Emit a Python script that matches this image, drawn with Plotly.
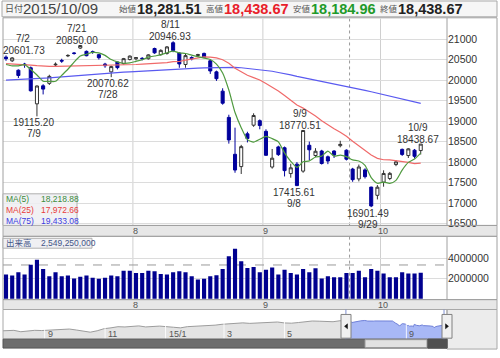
import plotly.graph_objects as go

# ---------------- data ----------------
dates = ["2015-07-02","2015-07-03","2015-07-06","2015-07-07","2015-07-08","2015-07-09","2015-07-10",
         "2015-07-13","2015-07-14","2015-07-15","2015-07-16","2015-07-17","2015-07-21","2015-07-22",
         "2015-07-23","2015-07-24","2015-07-27","2015-07-28","2015-07-29","2015-07-30","2015-07-31",
         "2015-08-03","2015-08-04","2015-08-05","2015-08-06","2015-08-07","2015-08-10","2015-08-11",
         "2015-08-12","2015-08-13","2015-08-14","2015-08-17","2015-08-18","2015-08-19","2015-08-20",
         "2015-08-21","2015-08-24","2015-08-25","2015-08-26","2015-08-27","2015-08-28","2015-08-31",
         "2015-09-01","2015-09-02","2015-09-03","2015-09-04","2015-09-07","2015-09-08","2015-09-09",
         "2015-09-10","2015-09-11","2015-09-14","2015-09-15","2015-09-16","2015-09-17","2015-09-18",
         "2015-09-24","2015-09-25","2015-09-28","2015-09-29","2015-09-30",
         "2015-10-01","2015-10-02","2015-10-05","2015-10-06","2015-10-07","2015-10-08","2015-10-09"]
opens = [20560,20470,20240,20390,20300,19420,19860,19920,20370,20480,20590,20660,20780,20700,
         20690,20620,20390,20200,20440,20400,20500,20520,20530,20520,20770,20620,20650,20910,
         20660,20380,20550,20600,20650,20470,20200,19730,19090,18190,17890,18690,18900,19010,
         18750,17880,18370,18350,17720,17950,17780,18410,18160,18270,18130,18270,18400,18290,
         17830,17590,17810,17390,17190,17510,17600,17940,18310,18160,18290,18281.51]
highs = [20601.73,20560,20260,20420,20330,19870,19900,20130,20430,20520,20630,20680,20850.00,20720,
         20720,20640,20420,20350,20450,20540,20600,20560,20560,20630,20790,20750,20830,20946.93,
         20680,20640,20580,20640,20670,20500,20230,19800,19155,18840,18420,18740,19190,19040,
         18800,18320,18400,18380,17960,18000,18770.51,18500,18340,18300,18160,18290,18520,18310,
         17860,17940,17850,17400,17440,17800,17760,18050,18330,18340,18320,18438.67]
lows = [20470,20440,20050,20300,19720,19115.20,19650,19880,20330,20420,20560,20620,20760,20580,
        20640,20500,20300,20070.62,20260,20380,20480,20480,20480,20500,20640,20600,20620,20680,
        20300,20300,20480,20560,20540,20150,19980,19400,18450,17740,17710,18480,18860,18800,
        18160,17840,18150,17650,17620,17415.61,17740,18050,18120,17940,17950,18100,18360,18040,
        17520,17530,17600,16901.49,17090,17400,17560,17900,18150,18100,18090,18184.96]
closes = [20522.83,20539.79,20112.12,20376.59,19737.64,19855.50,19779.83,20089.77,20385.33,20463.33,
          20600.12,20650.92,20841.97,20593.67,20683.95,20544.53,20350.10,20328.89,20302.91,20522.83,
          20585.24,20548.11,20520.36,20614.06,20664.44,20724.56,20808.69,20720.75,20392.77,20595.55,
          20519.45,20620.26,20554.47,20222.63,20033.52,19435.83,18540.68,17806.70,18376.83,18574.44,
          19136.32,18890.48,18165.69,18095.40,18182.39,17792.16,17860.47,17427.08,18770.51,18299.62,
          18264.22,17965.70,18026.48,18171.60,18432.27,18070.21,17571.83,17880.51,17645.11,16930.84,
          17388.15,17722.42,17725.13,18005.49,18186.10,18322.98,18141.17,18438.67]
volumes = [2370000,2270000,2600000,2370000,3350000,3840000,2920000,2200000,2600000,2200000,
           2270000,1980000,2150000,2270000,2050000,1950000,2050000,2270000,2200000,2760000,
           2760000,2530000,2530000,2760000,2700000,2430000,2370000,2600000,2700000,2600000,
           2200000,1880000,1950000,2200000,2300000,2920000,4170000,4920000,3680000,3020000,
           3120000,2600000,2860000,3060000,2370000,2860000,2530000,2370000,2920000,2600000,
           2990000,1980000,2200000,2100000,2100000,2530000,2530000,2760000,2100000,2920000,
           2760000,2470000,2100000,2100000,2600000,2470000,2470000,2549250]
prior_closes = [20706.15, 20109.95, 20235.73, 20329.32]
ma25_early = [20400,20395,20385,20378,20365,20352,20340,20335,20335,20338,20342,20346,
              20352,20356,20360,20362,20360,20358,20358,20365,20372,20380,20390,20398]
ma75 = [20000,20005,20015,20022,20030,20038,20045,20052,20065,20078,20090,20103,20115,20128,
        20140,20152,20162,20172,20182,20192,20200,20210,20218,20230,20240,20250,20258,20266,
        20272,20280,20286,20292,20298,20304,20310,20314,20316,20310,20300,20285,20275,20262,
        20240,20215,20185,20160,20125,20090,20060,20030,20005,19975,19945,19915,19885,19855,
        19820,19785,19750,19715,19680,19645,19610,19580,19545,19505,19470,19433.08]
nav_dates = ["2014-07-18","2014-07-25","2014-08-01","2014-08-08","2014-08-15","2014-08-22","2014-08-29",
             "2014-09-05","2014-09-12","2014-09-19","2014-09-26","2014-10-03","2014-10-10","2014-10-17",
             "2014-10-24","2014-10-31","2014-11-07","2014-11-14","2014-11-21","2014-11-28","2014-12-05",
             "2014-12-12","2014-12-19","2014-12-26","2015-01-09","2015-01-16","2015-01-23","2015-01-30",
             "2015-02-06","2015-02-13","2015-02-20","2015-02-27","2015-03-06","2015-03-13","2015-03-20",
             "2015-03-27","2015-04-03","2015-04-10","2015-04-17","2015-04-24","2015-05-01","2015-05-08",
             "2015-05-15","2015-05-22","2015-05-29","2015-06-05","2015-06-12","2015-06-19","2015-06-26"]
nav_closes = [15215,15457,15523,14778,15318,15539,15424,15668,15948,16321,16229,15708,15300,14532,
              15291,16413,16880,17490,17357,17459,17920,17371,17621,17818,17197,16864,17511,17674,
              17648,17913,18332,18797,18971,19254,19560,19285,19435,19907,19653,20020,19531,19379,
              19732,20264,20563,20460,20407,20174,20706]
extremes = [(0, "high"), (5, "low"), (12, "high"), (17, "low"), (27, "high"),
            (47, "low"), (48, "high"), (59, "low"), (67, "high")]
price_ticks = [16500, 17000, 17500, 18000, 18500, 19000, 19500, 20000, 20500, 21000]
vol_ticks = [2000000, 4000000]
month_labels = ["8", "9", "10"]
month_first_idx = [21, 42, 61]
nav_tick_dates = ["2014-09-01", "2014-11-01", "2015-01-01", "2015-03-01", "2015-05-01", "2015-09-01"]
nav_tick_labels = ["9", "11", "15/1", "3", "5", "9"]
crosshair_idx = 55.5
crosshair_vol = 3320000

# ---------------- helpers ----------------
W, H = 500, 358
def PX(x): return x / W
def PY(y): return 1 - y / H

X0, STEP = 6.0, 6.19          # pixel of index 0 and spacing
def idx_px(i): return X0 + STEP * i

FONT = "Liberation Sans, Arial, Noto Sans CJK JP, sans-serif"
idx = list(range(len(dates)))

full = prior_closes + closes
ma5 = [sum(full[i:i + 5]) / 5 for i in range(len(closes))]
ma25 = ma25_early + [sum(closes[i - 24:i + 1]) / 25 for i in range(len(ma25_early), len(closes))]

fig = go.Figure()

fig.add_trace(go.Candlestick(
    x=idx, open=opens, high=highs, low=lows, close=closes,
    increasing=dict(line=dict(color="#333333", width=1), fillcolor="white"),
    decreasing=dict(line=dict(color="#00009c", width=1), fillcolor="#00009c"),
    whiskerwidth=0, xaxis="x", yaxis="y", hoverinfo="skip"))
fig.add_trace(go.Scatter(x=idx, y=ma75, mode="lines", line=dict(color="#5a5af0", width=1.2),
                         xaxis="x", yaxis="y", hoverinfo="skip"))
fig.add_trace(go.Scatter(x=idx, y=ma25, mode="lines", line=dict(color="#f06a6a", width=1.2),
                         xaxis="x", yaxis="y", hoverinfo="skip"))
fig.add_trace(go.Scatter(x=idx, y=ma5, mode="lines", line=dict(color="#4f9a3f", width=1.2, shape="spline", smoothing=0.6),
                         xaxis="x", yaxis="y", hoverinfo="skip"))

fig.add_trace(go.Bar(x=idx, y=volumes, marker=dict(color="#00008f", line=dict(width=0)),
                     xaxis="x2", yaxis="y2", hoverinfo="skip"))

# navigator
fig.add_trace(go.Scatter(x=nav_dates + [dates[0]], y=nav_closes + [closes[0]], mode="lines",
                         fill="tozeroy", fillcolor="#e3e3e3", line=dict(color="#9c9c9c", width=1),
                         xaxis="x3", yaxis="y3", hoverinfo="skip"))
fig.add_trace(go.Scatter(x=dates, y=closes, mode="lines", fill="tozeroy", fillcolor="#a8b8f6",
                         line=dict(color="#6f80d8", width=1), xaxis="x3", yaxis="y3", hoverinfo="skip"))

xr = [(3 - X0) / STEP, (447 - X0) / STEP]
def p_of(y): return 21000 - (y - 39.5) * 24.11
def v_of(y): return (302 - y) / 10.25 * 1e6

fig.update_layout(
    width=W, height=H, margin=dict(l=0, r=0, t=0, b=0),
    paper_bgcolor="white", plot_bgcolor="rgba(0,0,0,0)",
    showlegend=False, hovermode=False, bargap=0.33,
    font=dict(family=FONT, color="#333"),
    xaxis=dict(domain=[PX(3), PX(447)], range=xr, showticklabels=False, showgrid=False,
               zeroline=False, rangeslider=dict(visible=False), anchor="y", fixedrange=True),
    yaxis=dict(domain=[PY(228), PY(19)], range=[p_of(228), p_of(19)], side="right",
               tickvals=price_ticks, ticktext=[str(t) for t in price_ticks], ticks="",
               tickfont=dict(size=10.5, color="#333"), gridcolor="#dcdcdc", zeroline=False,
               anchor="x", fixedrange=True),
    xaxis2=dict(domain=[PX(3), PX(447)], range=xr, showticklabels=False, showgrid=False,
                zeroline=False, anchor="y2", fixedrange=True),
    yaxis2=dict(domain=[PY(303), PY(239)], range=[v_of(303), v_of(239)], side="right",
                tickvals=vol_ticks, ticktext=[str(t) for t in vol_ticks], ticks="",
                tickfont=dict(size=10.5, color="#333"), gridcolor="#dcdcdc", zeroline=False,
                anchor="x2", fixedrange=True),
    xaxis3=dict(domain=[PX(3), PX(447)], type="date", range=["2014-07-21", "2015-10-12"],
                showticklabels=False, showgrid=False, zeroline=False, anchor="y3", fixedrange=True),
    yaxis3=dict(domain=[PY(343), PY(313)], range=[10767, 26767], visible=False,
                anchor="x3", fixedrange=True),
)

shapes = []
ann = []

def rect(x0, y0, x1, y1, fill=None, line="#a0a0a0", layer="above", width=1):
    shapes.append(dict(type="rect", xref="paper", yref="paper", x0=PX(x0), x1=PX(x1),
                       y0=PY(y1), y1=PY(y0), fillcolor=fill or "rgba(0,0,0,0)",
                       line=dict(color=line, width=width), layer=layer))

def text(x, y, s, size=9, color="#333", anchor="left", bold=False):
    ann.append(dict(xref="paper", yref="paper", x=PX(x), y=PY(y), text=("<b>%s</b>" % s) if bold else s,
                    showarrow=False, xanchor=anchor, yanchor="middle",
                    font=dict(size=size, color=color, family=FONT)))

# header
rect(2, 1, 497, 17, fill="#f6f6f6", line="#a8a8a8", layer="below")
last = len(closes) - 1
text(3, 9, "日付", 9, "#555")
text(21, 9, dates[last].replace("-", "/"), 15, "#444")
hdr = [("始値", opens[last], "#222"), ("高値", highs[last], "#e8202a"),
       ("安値", lows[last], "#1f9a2a"), ("終値", closes[last], "#222")]
for k, (lab, val, col) in enumerate(hdr):
    g = 117 + 87 * k
    text(g, 9.5, lab, 8.5, "#555")
    text(g + 18, 9, f"{val:,.2f}", 14.5, col, bold=True)

# strips
rect(3, 228, 497, 239, fill="#e7e7e7", line="#a8a8a8", layer="below")
rect(3, 303, 497, 313, fill="#e7e7e7", line="#a8a8a8", layer="below")
for lab, fi in zip(month_labels, month_first_idx):
    xg = idx_px(fi - 0.5)
    text(xg + 3, 234, lab, 9, "#555", "center")
    text(xg + 3, 308.5, lab, 9, "#555", "center")
    shapes.append(dict(type="line", xref="x", yref="y domain", x0=fi - 0.5, x1=fi - 0.5, y0=0, y1=1,
                       line=dict(color="#cfcfcf", width=1), layer="below"))
    shapes.append(dict(type="line", xref="x2", yref="y2 domain", x0=fi - 0.5, x1=fi - 0.5, y0=0, y1=1,
                       line=dict(color="#cfcfcf", width=1), layer="below"))

# crosshair
shapes.append(dict(type="line", xref="x", yref="y domain", x0=crosshair_idx, x1=crosshair_idx, y0=0, y1=1,
                   line=dict(color="#9a9a9a", width=1, dash="dot"), layer="below"))
shapes.append(dict(type="line", xref="x2", yref="y2 domain", x0=crosshair_idx, x1=crosshair_idx, y0=0, y1=1,
                   line=dict(color="#9a9a9a", width=1, dash="dot"), layer="below"))
shapes.append(dict(type="line", xref="x2 domain", yref="y2", x0=0, x1=1, y0=crosshair_vol, y1=crosshair_vol,
                   line=dict(color="#9a9a9a", width=1, dash="dash"), layer="below"))

# frames
rect(3, 18, 497, 228, line="#a0a0a0")
rect(3, 239, 497, 303, line="#a0a0a0")
shapes.append(dict(type="line", xref="paper", yref="paper", x0=PX(447), x1=PX(447), y0=PY(228), y1=PY(18),
                   line=dict(color="#a0a0a0", width=1)))
shapes.append(dict(type="line", xref="paper", yref="paper", x0=PX(447), x1=PX(447), y0=PY(303), y1=PY(239),
                   line=dict(color="#a0a0a0", width=1)))

# navigator
rect(447, 313, 497, 353, fill="#ececec", line="#a8a8a8", layer="below")
for d, lab in zip(nav_tick_dates, nav_tick_labels):
    shapes.append(dict(type="line", xref="x3", yref="paper", x0=d, x1=d, y0=PY(343), y1=PY(313),
                       line=dict(color="rgba(255,255,255,0.85)", width=1)))
    ann.append(dict(xref="x3", yref="paper", x=d, y=PY(338), text=lab, showarrow=False,
                    xanchor="left", yanchor="middle", xshift=1, font=dict(size=9, color="#555", family=FONT)))
rect(3, 313, 447, 343, line="#a8a8a8")
rect(3, 343, 447, 352, fill="#6e6e6e", line="#555555")
rect(365, 343.5, 427, 351.5, fill="#e2e2e2", line="#9a9a9a")
rect(428, 343, 447, 352, fill="#505050", line="#505050")
for d in [dates[0], dates[-1]]:
    shapes.append(dict(type="line", xref="x3", yref="paper", x0=d, x1=d, y0=PY(343), y1=PY(313),
                       line=dict(color="#7f90d0", width=1)))
# handles
for cx, pts in [(346, [(344.5, 330), (347.5, 327.5), (347.5, 332.5)]),
                (447, [(448.5, 330), (445.5, 327.5), (445.5, 332.5)])]:
    rect(cx - 5, 318, cx + 5, 342, fill="#f0f0f0", line="#808080")
    path = "M %f %f L %f %f L %f %f Z" % tuple(v for p in pts for v in (PX(p[0]), PY(p[1])))
    shapes.append(dict(type="path", xref="paper", yref="paper", path=path,
                       fillcolor="#111", line=dict(color="#111", width=0.5)))

# MA legend
rect(3, 196, 77, 228, fill="rgba(238,238,242,0.85)", line="#b0b0b0")
for row, (name, vals, col) in enumerate([("MA(5)", ma5, "#3c8c3c"), ("MA(25)", ma25, "#e83c3c"),
                                         ("MA(75)", ma75, "#3c3ce0")]):
    y = 201.7 + row * 10.8
    text(3.5, y, name, 8.5, col)
    text(39, y, f"{vals[-1]:,.2f}", 8.5, col)

# volume label
rect(3, 241, 92, 251, fill="rgba(238,238,242,0.9)", line="#b0b0b0")
text(4, 246, "出来高", 8.5, "#445588")
text(39, 246, f"{volumes[-1] * 1000:,}", 8.5, "#445588")

# extremes annotations: value next to the extreme, date beyond it
for i, kind in extremes:
    v = highs[i] if kind == "high" else lows[i]
    m, d = dates[i].split("-")[1:]
    dlab = f"{int(m)}/{int(d)}"
    vlab = f"{v:.2f}"
    ys_v, ys_d = (5, 16.5) if kind == "high" else (-6, -17.5)
    cx = idx_px(i) - 3
    for t, ys in [(vlab, ys_v), (dlab, ys_d)]:
        base = dict(yref="y", y=v, yshift=ys, text=t, showarrow=False, yanchor="middle",
                    borderpad=0, font=dict(size=10, color="#333", family=FONT))
        if cx - 23 < 2:
            if t == vlab:
                ann.append(dict(base, xref="paper", x=PX(2), xanchor="left"))
            else:
                ann.append(dict(base, xref="paper", x=PX(23), xanchor="center"))
        else:
            ann.append(dict(base, xref="x", x=i, xshift=-3, xanchor="center"))

fig.update_layout(shapes=shapes, annotations=ann)
fig.write_html("out.html")
